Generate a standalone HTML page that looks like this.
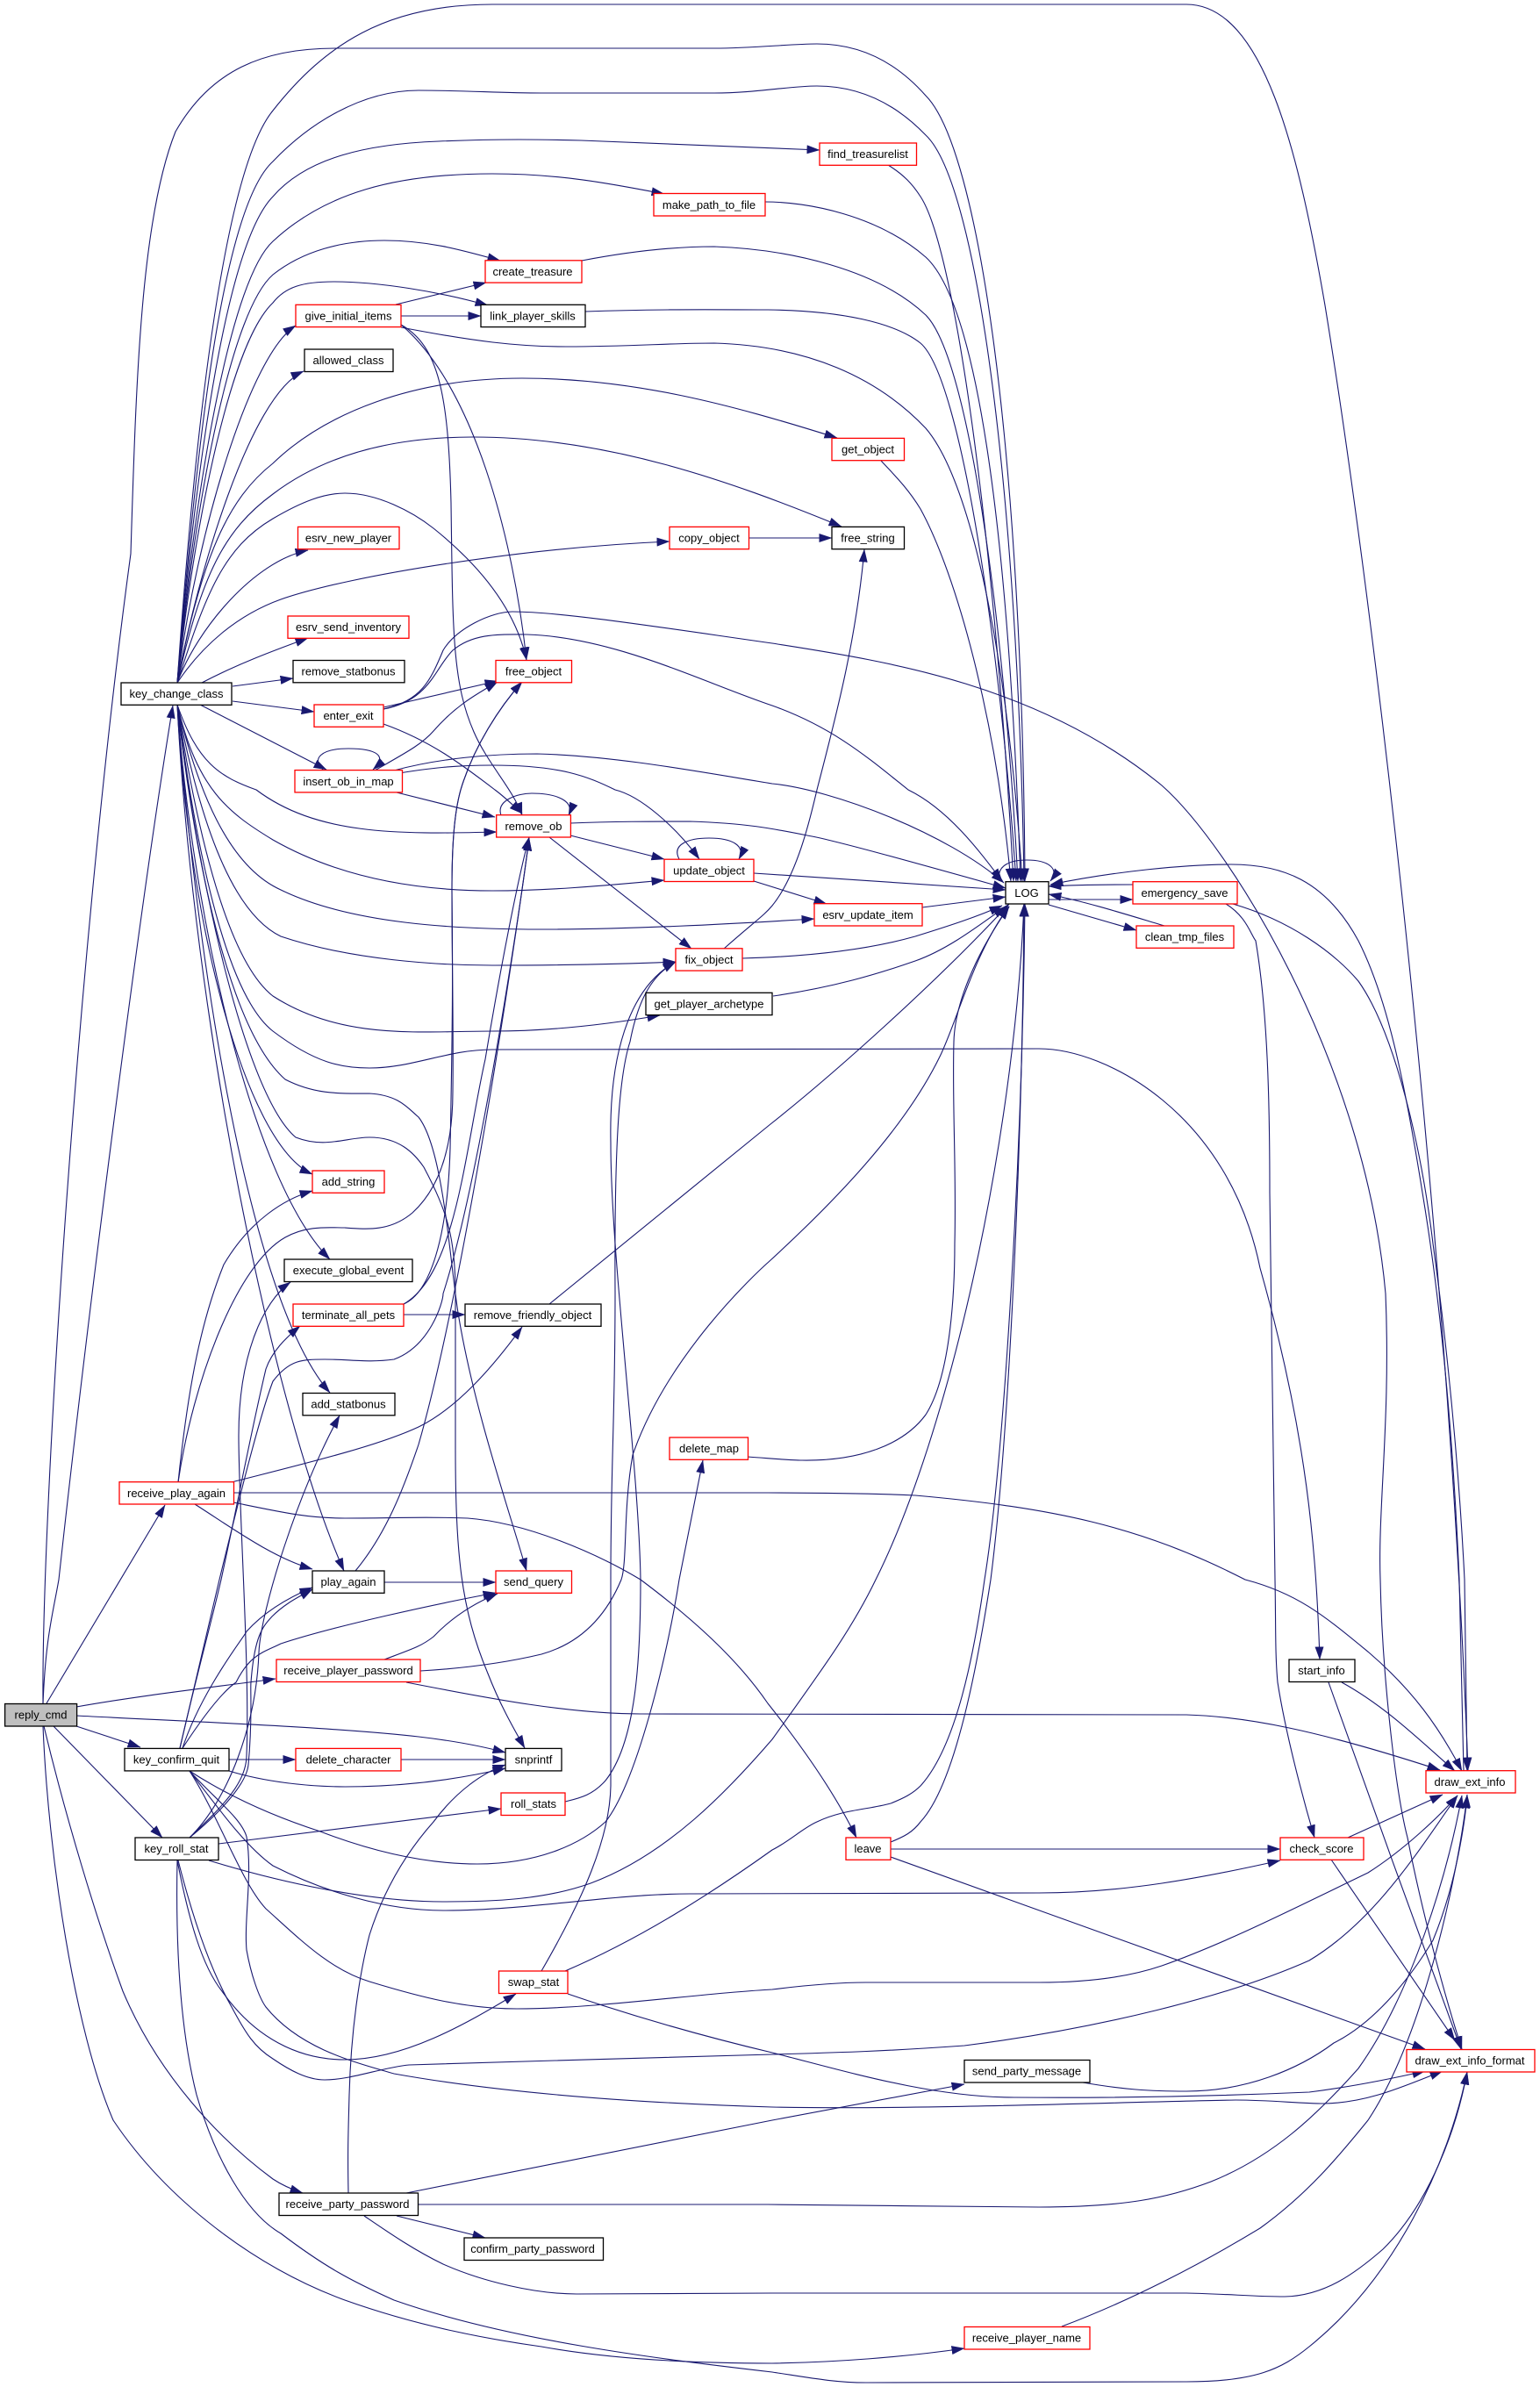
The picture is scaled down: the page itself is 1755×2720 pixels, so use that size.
<!DOCTYPE html>
<html><head><meta charset="utf-8"><title>reply_cmd call graph</title>
<style>html,body{margin:0;padding:0;background:#fff}svg{display:block}
text{font-family:"Liberation Sans",sans-serif;font-size:13px;text-anchor:middle;fill:#000}
.e path{fill:none;stroke:#191970;stroke-width:1.1;marker-end:url(#a)}
.r{fill:#fff;stroke:#f00;stroke-width:1.3}.b{fill:#fff;stroke:#000;stroke-width:1.3}.g{fill:#bfbfbf;stroke:#000;stroke-width:1.3}</style></head>
<body>
<svg xmlns="http://www.w3.org/2000/svg" width="1755" height="2720" viewBox="0 0 1755 2720">
<defs><marker id="a" markerUnits="userSpaceOnUse" markerWidth="15" markerHeight="10" refX="14.5" refY="5" orient="auto"><path d="M0,0L15,5L0,10z" fill="#191970"/></marker></defs>
<rect width="1755" height="2720" fill="#fff"/>
<g class="e">
<path d="M202,778C222,491 255,194 311,126C370,51 440,5 561,5L1352,5C1440,5 1480,174 1510,348C1570,716 1650,1411 1673,2017"/>
<path d="M49,1941C47,1718 90,1064 149,631C155,440 160,250 200,150C240,80 300,55 382,55L814,55C860,55 900,50 931,50C1000,50 1040,92 1055,109C1115,169 1165,511 1168,1004"/>
<path d="M202,778C225,491 255,235 311,184C350,143 410,103 477,103C530,103 570,106 617,106L814,106C860,106 900,98 931,98C990,98 1030,128 1055,154C1115,210 1160,573 1167,1004"/>
<path d="M202,778C225,511 260,276 311,224C350,179 420,164 500,161C570,158 620,159 662,160C760,164 850,167 934,171"/>
<path d="M202,778C225,532 265,317 311,275C370,220 450,198 561,198C640,198 700,210 757,221"/>
<path d="M202,778C225,552 265,353 311,313C345,286 390,274 438,274C490,274 530,286 570,297"/>
<path d="M202,778C225,573 265,389 311,345C325,327 345,321 380,321C430,321 500,332 556,348"/>
<path d="M202,778C225,603 285,404 337,371"/>
<path d="M202,778C225,655 285,450 346,423"/>
<path d="M202,778C230,634 260,568 311,528C370,471 470,431 595,431C720,431 830,460 954,499"/>
<path d="M202,778C230,655 255,604 311,563C365,522 440,498 539,498C690,498 830,547 959,600"/>
<path d="M202,778C235,675 255,624 311,591C345,571 370,562 393,562C430,562 470,583 494,602C560,655 590,706 600,752"/>
<path d="M202,778C225,716 290,639 351,627"/>
<path d="M202,778C230,736 270,701 320,683C400,655 600,624 763,617"/>
<path d="M230,778C270,757 310,742 351,727"/>
<path d="M265,782L334,773"/>
<path d="M265,799L358,811"/>
<path d="M228,803L372,877"/>
<path d="M202,803C225,869 250,885 292,900C360,951 450,951 566,948"/>
<path d="M202,803C225,900 260,926 311,957C390,1002 480,1015 561,1015C630,1015 700,1008 757,1003"/>
<path d="M202,803C225,900 260,987 320,1014C400,1053 520,1059 617,1059C720,1059 830,1053 928,1047"/>
<path d="M202,803C225,922 260,1038 320,1067C400,1094 500,1100 561,1100C640,1100 700,1099 770,1096"/>
<path d="M202,803C225,952 260,1095 311,1135C390,1186 480,1175 561,1175C630,1175 700,1166 752,1157"/>
<path d="M202,803C225,982 260,1135 311,1175C360,1212 390,1217 421,1217C470,1217 510,1196 561,1196L1184,1195C1260,1195 1400,1268 1436,1445C1490,1636 1500,1768 1504,1891"/>
<path d="M202,803C225,1002 265,1177 325,1230C360,1248 390,1246 421,1246C455,1248 465,1263 477,1273C505,1309 512,1431 522,1496C540,1606 580,1720 600,1790"/>
<path d="M202,803C225,1002 280,1248 337,1296C370,1309 395,1296 421,1296C455,1296 472,1314 483,1330C510,1381 519,1411 519,1474L519,1646C519,1770 525,1833 556,1907C570,1943 585,1969 598,1992"/>
<path d="M202,803C215,1053 280,1304 356,1338"/>
<path d="M202,803C220,1053 290,1350 376,1435"/>
<path d="M202,803C225,1105 285,1484 376,1587"/>
<path d="M202,803C220,1157 310,1606 392,1790"/>
<path d="M451,347L554,322"/>
<path d="M457,360L548,360"/>
<path d="M457,373C540,389 590,395 645,395C720,395 760,391 814,391C920,394 1000,430 1055,488C1110,552 1150,767 1165,1004"/>
<path d="M457,370C540,440 585,614 600,752"/>
<path d="M457,370C500,394 511,450 514,573C516,716 515,777 540,834C555,869 585,900 595,929"/>
<path d="M872,230C920,230 1000,245 1055,293C1115,348 1150,614 1163,1004"/>
<path d="M663,297C720,286 770,281 814,281C900,284 1000,307 1055,359C1105,409 1145,716 1160,1004"/>
<path d="M667,355C750,352 820,353 875,353C960,354 1020,368 1049,391C1095,430 1140,736 1158,1004"/>
<path d="M1012,188C1030,199 1040,210 1049,224C1090,286 1135,634 1155,1004"/>
<path d="M1004,525C1020,542 1035,557 1049,580C1090,655 1135,818 1152,1004"/>
<path d="M853,613L948,613"/>
<path d="M437,808C480,798 490,777 505,741C520,716 560,697 584,697C640,697 760,716 880,733C1000,752 1180,777 1324,895C1400,962 1555,1207 1579,1474C1585,1616 1570,1718 1573,1800C1575,1905 1590,2040 1604,2094C1620,2176 1645,2270 1666,2335"/>
<path d="M437,808C490,798 495,762 516,741C540,721 570,723 600,723C700,726 800,777 880,804C950,829 990,864 1035,900C1080,922 1115,968 1142,1004"/>
<path d="M437,806L567,776"/>
<path d="M437,825C490,844 525,870 564,900C575,908 585,918 595,927"/>
<path d="M368,877C355,865 365,853 397,853C430,853 442,862 425,877"/>
<path d="M427,878C460,859 480,849 494,833C520,803 545,790 567,777"/>
<path d="M449,878C500,864 560,859 612,859C700,861 800,880 880,893C950,900 1080,950 1144,1006"/>
<path d="M449,882C490,875 520,872 561,872C640,872 670,885 701,900C730,907 770,942 797,979"/>
<path d="M452,903L564,931"/>
<path d="M203,1689C220,1573 270,1441 325,1410C350,1396 375,1399 393,1399C420,1401 445,1403 470,1382C505,1350 516,1299 516,1244C517,1155 515,1105 515,1015C515,960 518,925 525,900C540,850 570,805 595,777"/>
<path d="M203,1689C215,1575 230,1503 255,1441C285,1390 325,1366 356,1357"/>
<path d="M264,1689C350,1667 430,1648 477,1626C520,1605 560,1560 595,1512"/>
<path d="M266,1701L875,1701C950,1701 1000,1702 1043,1704C1200,1718 1300,1739 1419,1800C1480,1816 1510,1842 1560,1883C1610,1926 1640,1968 1666,2018"/>
<path d="M266,1712C320,1723 350,1730 393,1730C460,1730 480,1728 533,1730C600,1735 680,1770 730,1800C790,1845 840,1890 875,1941C910,1985 950,2040 976,2094"/>
<path d="M222,1714C260,1738 310,1775 356,1788"/>
<path d="M460,1486C520,1452 530,1309 553,1207C570,1105 590,1002 603,954"/>
<path d="M460,1486C490,1473 510,1411 513,1309C516,1155 516,1105 515,1015C515,960 518,925 525,900C540,850 570,805 595,777"/>
<path d="M460,1498L530,1498"/>
<path d="M626,1486L878,1281C950,1224 1070,1117 1150,1030"/>
<path d="M571,929C565,912 590,904 606,904C635,904 655,913 648,929"/>
<path d="M650,952L757,979"/>
<path d="M626,954L788,1081"/>
<path d="M650,938C700,936 740,936 786,936C850,938 880,944 920,952C950,957 1060,988 1146,1012"/>
<path d="M774,979C765,962 785,955 808,955C835,955 850,964 842,979"/>
<path d="M859,1004L942,1030"/>
<path d="M859,995L1146,1014"/>
<path d="M1051,1034L1146,1022"/>
<path d="M825,1081C860,1050 870,1044 880,1032C910,995 925,925 931,900C950,826 975,736 985,626"/>
<path d="M846,1092C920,1090 990,1082 1043,1067C1085,1054 1115,1044 1142,1032"/>
<path d="M881,1135C950,1125 1000,1110 1043,1095C1080,1082 1115,1055 1146,1033"/>
<path d="M1139,1004C1135,987 1150,980 1170,980C1195,980 1208,990 1197,1004"/>
<path d="M1195,1025L1291,1025"/>
<path d="M1291,1008C1260,1008 1230,1008 1195,1010"/>
<path d="M1195,1031L1295,1060"/>
<path d="M1327,1055C1290,1044 1240,1028 1195,1019"/>
<path d="M1397,1030C1420,1044 1425,1064 1431,1072C1445,1155 1447,1259 1447,1359C1450,1520 1451,1670 1453,1800C1454,1850 1453,1885 1456,1917C1465,1975 1485,2050 1498,2094"/>
<path d="M1405,1030C1470,1049 1520,1085 1548,1118C1590,1177 1620,1309 1633,1417C1655,1576 1665,1718 1669,1800L1672,2018"/>
<path d="M1668,2018L1663,1800C1655,1616 1640,1473 1621,1359C1600,1227 1580,1135 1548,1072C1510,1002 1460,985 1403,985C1350,985 1270,993 1197,1008"/>
<path d="M1529,1917C1580,1945 1620,1985 1658,2018"/>
<path d="M1514,1917C1550,2020 1630,2240 1665,2335"/>
<path d="M1536,2094L1644,2045"/>
<path d="M1517,2119L1658,2325"/>
<path d="M1015,2099C1030,2093 1040,2088 1049,2076C1090,2032 1115,1890 1129,1800C1150,1636 1165,1309 1167,1030"/>
<path d="M1015,2107L1459,2107"/>
<path d="M1015,2116L1624,2335"/>
<path d="M852,1660C880,1662 900,1664 914,1664C980,1665 1030,1646 1055,1612C1085,1565 1088,1462 1088,1417C1090,1330 1085,1257 1087,1187C1088,1146 1110,1090 1150,1033"/>
<path d="M438,1891C470,1879 480,1876 494,1865C515,1843 540,1827 567,1816"/>
<path d="M479,1904C530,1901 575,1895 617,1885C660,1873 690,1843 708,1800C715,1780 710,1720 721,1658C760,1545 860,1452 877,1437C950,1370 1030,1288 1071,1204C1090,1166 1110,1085 1150,1033"/>
<path d="M463,1917C560,1936 650,1953 730,1953L1352,1954C1420,1956 1500,1971 1641,2017"/>
<path d="M205,1992C225,1905 240,1852 252,1800C270,1718 285,1636 303,1560C310,1540 325,1525 342,1511"/>
<path d="M205,1992C225,1905 240,1842 250,1800C270,1718 295,1616 311,1574C330,1549 345,1549 370,1549C400,1549 420,1553 449,1549C490,1534 505,1484 505,1474C545,1350 590,1056 603,955"/>
<path d="M208,1992C230,1925 280,1863 281,1859C300,1838 325,1822 356,1809"/>
<path d="M208,1992C225,1966 250,1930 269,1917C285,1885 300,1883 320,1873C380,1853 500,1827 565,1815"/>
<path d="M261,2005L337,2005"/>
<path d="M261,2018C300,2030 350,2036 393,2036C460,2036 520,2028 576,2015"/>
<path d="M216,2018C250,2040 300,2066 365,2087C430,2112 490,2124 544,2124C610,2124 660,2103 690,2076C725,2032 760,1890 774,1800L801,1664"/>
<path d="M216,2018C250,2062 280,2104 311,2126C370,2156 440,2177 505,2177C600,2177 700,2158 786,2158L1184,2157C1280,2157 1370,2140 1459,2120"/>
<path d="M216,2018C250,2071 275,2145 303,2175C340,2208 375,2244 421,2258C480,2276 530,2289 589,2289C680,2289 800,2271 880,2267C920,2262 960,2259 987,2259L1184,2259C1230,2259 1280,2255 1324,2240C1400,2213 1480,2172 1559,2134C1600,2108 1640,2070 1661,2046"/>
<path d="M216,2018C245,2050 275,2072 281,2093C288,2135 278,2187 281,2222C286,2250 295,2276 303,2287C340,2333 400,2349 449,2363C600,2390 780,2398 880,2401C1050,2404 1250,2396 1408,2393C1450,2393 1480,2397 1509,2397C1560,2396 1600,2377 1644,2360"/>
<path d="M216,2094C255,2062 281,2031 283,2011C288,1957 285,1925 286,1917C290,1863 300,1853 310,1842C325,1827 340,1820 356,1811"/>
<path d="M216,2094C255,2057 281,2031 281,2000C285,1905 272,1718 272,1636C272,1544 300,1483 331,1461"/>
<path d="M216,2094C260,2051 292,1966 295,1883C297,1835 340,1698 387,1613"/>
<path d="M249,2101L571,2061"/>
<path d="M238,2120C320,2145 420,2167 505,2167C560,2167 620,2165 673,2146C760,2114 830,2040 880,1982C935,1905 970,1858 998,1800C1080,1636 1155,1309 1167,1030"/>
<path d="M202,2120C215,2187 230,2240 253,2269C290,2322 340,2347 393,2347C460,2347 530,2307 588,2272"/>
<path d="M203,2120C220,2187 240,2245 264,2287C280,2317 290,2333 311,2346C330,2359 350,2370 370,2370C400,2370 435,2356 466,2353C600,2349 760,2344 880,2341C950,2339 1000,2338 1099,2331C1250,2312 1400,2275 1492,2234C1570,2187 1620,2103 1661,2046"/>
<path d="M202,2120C200,2218 205,2312 224,2387C245,2459 280,2522 320,2545C370,2583 400,2599 449,2621C580,2667 750,2688 880,2703C920,2709 950,2715 987,2715L1352,2714C1430,2714 1460,2700 1492,2674C1590,2595 1650,2467 1672,2361"/>
<path d="M644,2053C660,2049 675,2046 690,2029C725,1985 730,1890 730,1800C728,1670 696,1434 696,1302C694,1207 715,1126 770,1096"/>
<path d="M617,2246C665,2163 695,2094 696,2035L696,1800C696,1670 701,1616 701,1474C700,1309 705,1227 718,1187C728,1135 745,1110 770,1096"/>
<path d="M647,2272C720,2297 800,2320 880,2339C960,2359 1060,2390 1156,2390C1280,2391 1400,2388 1492,2384C1540,2378 1580,2370 1624,2360"/>
<path d="M644,2246C730,2209 810,2158 880,2108C900,2098 915,2083 931,2076C960,2062 990,2062 1015,2055C1030,2049 1040,2044 1049,2035C1090,1990 1110,1885 1122,1800C1145,1656 1165,1309 1168,1030"/>
<path d="M1234,2373C1280,2381 1310,2383 1352,2383C1420,2383 1480,2358 1520,2328C1570,2303 1610,2249 1633,2211C1660,2146 1670,2072 1672,2045"/>
<path d="M463,2499L880,2416L1099,2375"/>
<path d="M397,2499C396,2448 397,2427 398,2387C400,2312 410,2248 421,2205C440,2145 470,2103 494,2076C520,2041 550,2020 576,2011"/>
<path d="M476,2512L875,2512C950,2512 1100,2515 1184,2515C1280,2515 1330,2505 1380,2486C1450,2458 1500,2411 1548,2357C1610,2270 1650,2133 1666,2046"/>
<path d="M452,2525L553,2550"/>
<path d="M415,2525C440,2542 470,2563 505,2580C550,2600 610,2614 657,2614L880,2613L1352,2613C1400,2614 1430,2617 1464,2617C1510,2616 1545,2590 1576,2563C1630,2510 1660,2425 1672,2361"/>
<path d="M1210,2651C1290,2621 1370,2579 1436,2539C1490,2500 1525,2458 1559,2416C1620,2324 1660,2146 1672,2046"/>
<path d="M49,1941C52,1866 60,1840 67,1800C100,1498 160,1027 197,804"/>
<path d="M53,1941L188,1715"/>
<path d="M87,1945C160,1932 240,1923 314,1913"/>
<path d="M87,1955C220,1962 380,1968 477,1979C520,1984 550,1990 576,1997"/>
<path d="M87,1967L160,1991"/>
<path d="M61,1967L185,2094"/>
<path d="M50,1967C75,2071 110,2187 140,2269C180,2364 250,2438 311,2483C320,2489 330,2494 345,2499"/>
<path d="M49,1967C55,2114 85,2314 129,2416C190,2507 290,2583 393,2621C480,2652 560,2666 617,2674C700,2689 800,2693 880,2693C950,2692 1030,2686 1099,2676"/>
<path d="M405,1790C440,1748 460,1696 477,1646C530,1462 590,1056 603,955"/>
<path d="M438,1803L565,1803"/>
<path d="M457,2005L576,2005"/>
</g>
<rect class="r" x="745" y="220.500" width="127" height="25.500"/><text x="808" y="238">make_path_to_file</text>
<rect class="r" x="553" y="296.800" width="110" height="25.300"/><text x="607" y="314">create_treasure</text>
<rect class="r" x="337" y="347.300" width="120" height="25.300"/><text x="397" y="364.500">give_initial_items</text>
<rect class="b" x="548" y="347.300" width="119" height="25.300"/><text x="607" y="364.500">link_player_skills</text>
<rect class="b" x="347" y="398" width="101" height="25.500"/><text x="397" y="415">allowed_class</text>
<rect class="r" x="339.500" y="600.400" width="115.500" height="25.300"/><text x="397" y="617.500">esrv_new_player</text>
<rect class="r" x="763" y="600.400" width="90.500" height="25.300"/><text x="808" y="617.500">copy_object</text>
<rect class="r" x="328" y="702" width="138" height="25.300"/><text x="397" y="719">esrv_send_inventory</text>
<rect class="b" x="334" y="752.500" width="127" height="25.300"/><text x="397" y="769.700">remove_statbonus</text>
<rect class="r" x="565" y="752.500" width="86.500" height="25.300"/><text x="608" y="769.700">free_object</text>
<rect class="b" x="138" y="778" width="126" height="25.300"/><text x="201" y="795">key_change_class</text>
<rect class="r" x="358" y="803" width="79" height="25.300"/><text x="397" y="820">enter_exit</text>
<rect class="r" x="336" y="877.600" width="122.500" height="25.300"/><text x="397" y="895">insert_ob_in_map</text>
<rect class="r" x="934" y="163" width="110.500" height="25.300"/><text x="989" y="180">find_treasurelist</text>
<rect class="r" x="948" y="499.400" width="82.500" height="25.300"/><text x="989" y="516.500">get_object</text>
<rect class="b" x="948" y="600.400" width="82.500" height="25.300"/><text x="989" y="617.500">free_string</text>
<rect class="r" x="565.700" y="928.700" width="84.700" height="25.300"/><text x="608" y="946">remove_ob</text>
<rect class="r" x="757" y="979.200" width="102" height="25.300"/><text x="808" y="996.500">update_object</text>
<rect class="r" x="770" y="1080.800" width="76" height="25.300"/><text x="808" y="1098">fix_object</text>
<rect class="b" x="736" y="1131.300" width="144" height="25.300"/><text x="808" y="1148.500">get_player_archetype</text>
<rect class="r" x="356" y="1334" width="82" height="25.300"/><text x="397" y="1351">add_string</text>
<rect class="b" x="324" y="1435" width="146" height="25.500"/><text x="397" y="1452">execute_global_event</text>
<rect class="r" x="334" y="1486" width="126" height="25.300"/><text x="397" y="1503">terminate_all_pets</text>
<rect class="b" x="530" y="1486" width="155" height="25.300"/><text x="607" y="1503">remove_friendly_object</text>
<rect class="b" x="345" y="1587.500" width="105" height="25.300"/><text x="397" y="1604.500">add_statbonus</text>
<rect class="r" x="763" y="1638" width="89.500" height="25.300"/><text x="808" y="1655">delete_map</text>
<rect class="r" x="136" y="1688.700" width="130.500" height="25.300"/><text x="201" y="1706">receive_play_again</text>
<rect class="b" x="1146" y="1004.700" width="49" height="25.300"/><text x="1170" y="1022">LOG</text>
<rect class="r" x="1291" y="1004.700" width="119" height="25.300"/><text x="1350" y="1022">emergency_save</text>
<rect class="r" x="928" y="1029.700" width="123" height="25.300"/><text x="989" y="1047">esrv_update_item</text>
<rect class="r" x="1295" y="1055" width="111" height="25.300"/><text x="1350" y="1072">clean_tmp_files</text>
<rect class="b" x="356" y="1790" width="82" height="25.300"/><text x="397" y="1807">play_again</text>
<rect class="r" x="565" y="1790" width="86.500" height="25.300"/><text x="608" y="1807">send_query</text>
<rect class="r" x="315" y="1891" width="164" height="25.500"/><text x="397" y="1908">receive_player_password</text>
<rect class="g" x="5.600" y="1941.500" width="82" height="25.500"/><text x="46.500" y="1958.500">reply_cmd</text>
<rect class="b" x="142" y="1992.400" width="119" height="25.500"/><text x="201" y="2009.500">key_confirm_quit</text>
<rect class="r" x="337" y="1992.400" width="120" height="25.500"/><text x="397" y="2009.500">delete_character</text>
<rect class="b" x="576" y="1992.400" width="64" height="25.500"/><text x="608" y="2009.500">snprintf</text>
<rect class="r" x="571" y="2043" width="73" height="25.500"/><text x="608" y="2060">roll_stats</text>
<rect class="b" x="154" y="2094" width="95" height="25.500"/><text x="201" y="2111">key_roll_stat</text>
<rect class="r" x="568.500" y="2246" width="78.500" height="25.500"/><text x="608" y="2263">swap_stat</text>
<rect class="b" x="318" y="2499" width="158.500" height="25.500"/><text x="396" y="2516">receive_party_password</text>
<rect class="b" x="529" y="2550" width="158.500" height="25.500"/><text x="607" y="2567">confirm_party_password</text>
<rect class="b" x="1469" y="1891" width="75" height="25.500"/><text x="1506" y="1908">start_info</text>
<rect class="r" x="1625" y="2017.700" width="102" height="25.300"/><text x="1675" y="2035">draw_ext_info</text>
<rect class="r" x="964" y="2094" width="51" height="25.300"/><text x="989" y="2111">leave</text>
<rect class="r" x="1459" y="2094" width="95" height="25.300"/><text x="1506" y="2111">check_score</text>
<rect class="r" x="1603" y="2335.500" width="146" height="25.500"/><text x="1675" y="2352.500">draw_ext_info_format</text>
<rect class="b" x="1099" y="2347.500" width="143" height="25.500"/><text x="1170" y="2364.500">send_party_message</text>
<rect class="r" x="1099" y="2651.500" width="143" height="25.500"/><text x="1170" y="2668.500">receive_player_name</text>
</svg>
</body></html>
